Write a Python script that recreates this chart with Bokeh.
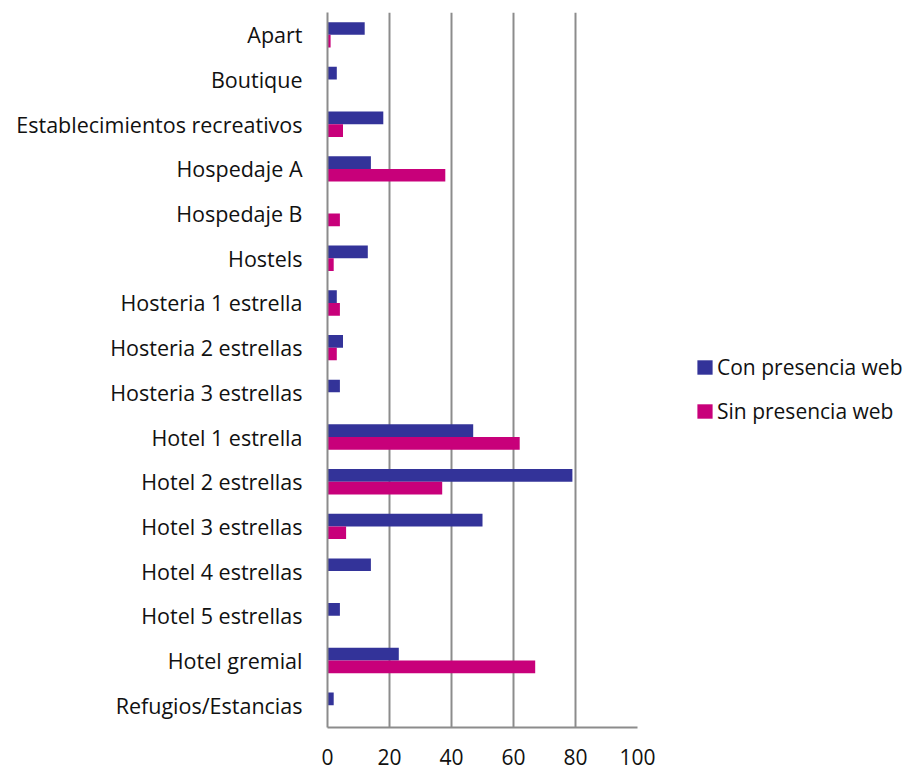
from bokeh.plotting import figure
from bokeh.models import FactorRange, Range1d, Legend, LegendItem, ColumnDataSource, FixedTicker
from bokeh.transform import dodge
from bokeh.embed import file_html
from bokeh.resources import INLINE

categories = ["Apart", "Boutique", "Establecimientos recreativos", "Hospedaje A", "Hospedaje B",
              "Hostels", "Hosteria 1 estrella", "Hosteria 2 estrellas", "Hosteria 3 estrellas",
              "Hotel 1 estrella", "Hotel 2 estrellas", "Hotel 3 estrellas", "Hotel 4 estrellas",
              "Hotel 5 estrellas", "Hotel gremial", "Refugios/Estancias"]
con_presencia = [12, 3, 18, 14, 0, 13, 3, 5, 4, 47, 79, 50, 14, 4, 23, 2]
sin_presencia = [1, 0, 5, 38, 4, 2, 4, 3, 0, 62, 37, 6, 0, 0, 67, 0]
x_ticks = [0, 20, 40, 60, 80, 100]

FONT = "Open Sans"

src = ColumnDataSource(dict(cat=categories, con=con_presencia, sin=sin_presencia))

p = figure(y_range=FactorRange(factors=categories[::-1]), x_range=Range1d(0, 100),
           frame_width=310, frame_height=715, output_backend="svg", toolbar_location=None,
           min_border_left=327, min_border_right=20, min_border_top=12, min_border_bottom=42)

r1 = p.hbar(y=dodge("cat", 0.142, range=p.y_range), right="con", left=0, height=0.284,
            source=src, fill_color="#333399", line_color=None)
r2 = p.hbar(y=dodge("cat", -0.142, range=p.y_range), right="sin", left=0, height=0.284,
            source=src, fill_color="#C8007A", line_color=None)

p.outline_line_color = None
p.ygrid.visible = False
p.xgrid.grid_line_color = "#8c8c8c"
p.xgrid.grid_line_width = 2
p.xaxis.ticker = FixedTicker(ticks=x_ticks)

for ax in (p.xaxis[0], p.yaxis[0]):
    ax.axis_line_color = "#8c8c8c"
    ax.axis_line_width = 2
    ax.major_tick_line_color = None
    ax.minor_tick_line_color = None
    ax.major_label_text_font = FONT
    ax.major_label_text_color = "#111111"

p.xaxis.major_label_text_font_size = "21px"
p.yaxis.major_label_text_font_size = "21.5px"
p.xaxis.major_label_standoff = 15
p.yaxis.major_label_standoff = 19

legend = Legend(items=[LegendItem(label="Con presencia web", renderers=[r1]),
                       LegendItem(label="Sin presencia web", renderers=[r2])],
                location=(58, 302), border_line_color=None, background_fill_alpha=0,
                glyph_width=19, glyph_height=18, label_standoff=3, spacing=16,
                padding=0, margin=0, label_text_font=FONT, label_text_font_size="21px",
                label_text_color="#111111", label_height=20)
p.add_layout(legend, "right")

open("out.html", "w").write(file_html(p, INLINE))
